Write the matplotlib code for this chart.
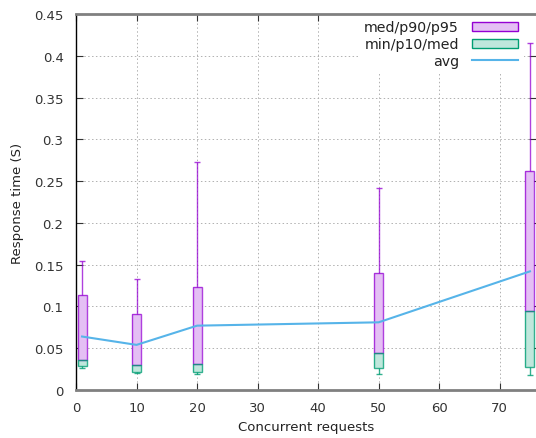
import matplotlib
matplotlib.use("Agg")
import matplotlib.pyplot as plt
from matplotlib.patches import Patch
from matplotlib.lines import Line2D
from matplotlib.ticker import FuncFormatter, MultipleLocator

# concurrency levels and response time percentiles (seconds)
conc = [1, 10, 20, 50, 75]
t_min = [0.026, 0.020, 0.019, 0.019, 0.018]
t_p10 = [0.029, 0.022, 0.022, 0.026, 0.028]
t_med = [0.036, 0.030, 0.031, 0.044, 0.094]
t_p90 = [0.114, 0.091, 0.123, 0.140, 0.262]
t_p95 = [0.154, 0.133, 0.273, 0.242, 0.415]
t_avg = [0.064, 0.054, 0.077, 0.081, 0.142]

purple = "#9400d3"
green = "#009e73"
blue = "#56b4e9"
purple_fill = "#e4bff4"
green_fill = "#bfe7dc"

fig = plt.figure(figsize=(5.36, 4.39), dpi=100)
ax = fig.add_axes([76/536, 1-391/439, 1-76/536, (391-15)/439])

bw = 1.5
cw = 1.0
# upper box med..p90 with whisker to p95
ax.bar(conc, [b - a for a, b in zip(t_med, t_p90)], bottom=t_med, width=bw,
       color=purple_fill, zorder=3)
ax.bar(conc, [b - a for a, b in zip(t_med, t_p90)], bottom=t_med, width=bw,
       fill=False, edgecolor=purple, linewidth=1.0, alpha=0.75, zorder=4)
ax.vlines(conc, t_p90, t_p95, color=purple, lw=1.0, alpha=0.75, zorder=4)
ax.hlines(t_p95, [c - cw/2 for c in conc], [c + cw/2 for c in conc],
          color=purple, lw=1.0, alpha=0.75, zorder=4)
# lower box p10..med with whisker to min
ax.bar(conc, [b - a for a, b in zip(t_p10, t_med)], bottom=t_p10, width=bw,
       color=green_fill, zorder=3)
ax.bar(conc, [b - a for a, b in zip(t_p10, t_med)], bottom=t_p10, width=bw,
       fill=False, edgecolor=green, linewidth=1.0, alpha=0.8, zorder=4)
ax.vlines(conc, t_min, t_p10, color=green, lw=1.0, alpha=0.8, zorder=4)
ax.hlines(t_min, [c - cw/2 for c in conc], [c + cw/2 for c in conc],
          color=green, lw=1.0, alpha=0.8, zorder=4)

ax.plot(conc, t_avg, color=blue, lw=1.5, zorder=5)

ax.set_xlim(0, 76)
ax.set_ylim(0, 0.45)
ax.xaxis.set_major_locator(MultipleLocator(10))
ax.yaxis.set_major_locator(MultipleLocator(0.05))
ax.yaxis.set_major_formatter(FuncFormatter(lambda v, p: "%g" % round(v, 3)))

ax.grid(True, color="#b0b0b0", linestyle=(0, (1.5, 2.5)), lw=0.7)
ax.set_axisbelow(True)
ax.tick_params(direction="in", length=5, labelsize=9.5, colors="#333333",
               top=True, right=True, labelcolor="#333333")
ax.tick_params(axis="x", pad=8)
ax.tick_params(axis="y", pad=9)

ax.spines["left"].set_color("black")
ax.spines["left"].set_linewidth(1.0)
ax.spines["bottom"].set_color("#808080")
ax.spines["bottom"].set_linewidth(2)
ax.spines["top"].set_color("#808080")
ax.spines["top"].set_linewidth(2)
ax.spines["right"].set_visible(False)

ax.set_xlabel("Concurrent requests", fontsize=9.5, color="#222222", labelpad=4)
ax.set_ylabel("Response time (S)", fontsize=9.5, color="#222222", labelpad=7)

handles = [
    Patch(facecolor=purple_fill, edgecolor=purple, lw=1.0),
    Patch(facecolor=green_fill, edgecolor=green, lw=1.0),
    Line2D([], [], color=blue, lw=1.5),
]
labels = ["med/p90/p95", "min/p10/med", "avg"]
leg = ax.legend(handles, labels, loc="upper right", bbox_to_anchor=(0.974, 1.0),
                markerfirst=False, fontsize=10.2, frameon=True, framealpha=1,
                edgecolor="none", fancybox=False, handlelength=3.2,
                handleheight=0.6, labelspacing=0.2, borderaxespad=0,
                borderpad=0.45, handletextpad=0.95)
leg.set_zorder(2.2)
for t in leg.get_texts():
    t.set_color("#222222")

fig.savefig("out.png", dpi=100)
